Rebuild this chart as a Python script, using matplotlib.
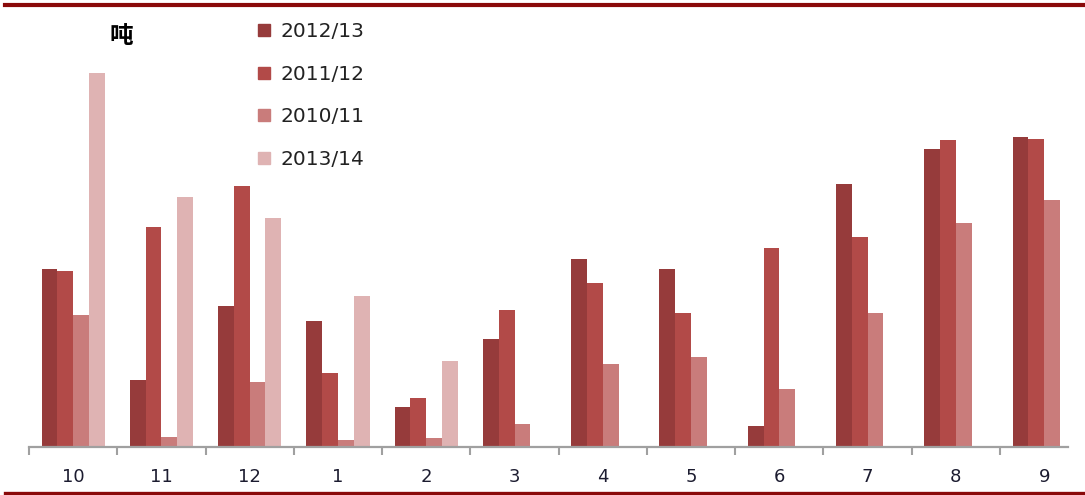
import numpy as np
import matplotlib
matplotlib.use("Agg")
import matplotlib.pyplot as plt
from matplotlib.lines import Line2D

months = ["10", "11", "12", "1", "2", "3", "4", "5", "6", "7", "8", "9"]
seasons = ["2012/13", "2011/12", "2010/11", "2013/14"]

s2012 = [178, 67, 141, 126, 40, 108, 188, 178, 21, 263, 298, 310]
s2011 = [176, 220, 261, 74, 49, 137, 164, 134, 199, 210, 307, 308]
s2010 = [132, 10, 65, 7, 9, 23, 83, 90, 58, 134, 224, 247]
s2013 = [374, 250, 229, 151, 86, np.nan, np.nan, np.nan, np.nan, np.nan, np.nan, np.nan]

colors = ["#963B3B", "#B24A48", "#C97C7B", "#DFB3B3"]

fig = plt.figure(figsize=(10.85, 4.95), dpi=100)
ax = fig.add_axes([29 / 1085, 48 / 495, (1068 - 29) / 1085, 427 / 495])

x = np.arange(len(months))
w = 0.179
series = [s2012, s2011, s2010, s2013]
for i, (vals, c) in enumerate(zip(series, colors)):
    ax.bar(x + (i - 1.5) * w, vals, width=w, color=c, label=seasons[i])

ax.set_xlim(-0.5, 11.27)
ax.set_ylim(0, 427)
ax.set_xticks(np.arange(-0.5, 11.5, 1.0))
ax.set_xticklabels([])
ax.set_xticks(x, minor=True)
ax.set_xticklabels(months, minor=True, fontsize=13, color="#1c1c30")
ax.tick_params(axis="x", which="major", length=6, width=1.5, color="#a0a0a0", direction="out")
ax.tick_params(axis="x", which="minor", length=0, pad=15)
ax.set_yticks([])
for side in ["top", "right", "left"]:
    ax.spines[side].set_visible(False)
ax.spines["bottom"].set_color("#a0a0a0")
ax.spines["bottom"].set_linewidth(1.6)

handles = [Line2D([], [], linestyle="none", marker="s", markersize=9,
                  markerfacecolor=c, markeredgecolor=c) for c in colors]
leg = fig.legend(handles, seasons, loc="upper left",
                 bbox_to_anchor=(248 / 1085, 1 - 14 / 495),
                 frameon=False, fontsize=14.5, labelspacing=1.17,
                 handlelength=0.8, handletextpad=0.4, borderaxespad=0)
for t in leg.get_texts():
    t.set_color("#222222")

fig.text(121 / 1085, 1 - 36 / 495, "吨", fontsize=17, fontweight="bold",
         family=["Noto Sans CJK SC", "DejaVu Sans"], ha="center", va="center")

# red rules at the top and bottom of the panel
fig.add_artist(Line2D([5 / 1085, 1], [1 - 4.5 / 495] * 2, color="#8A0A0A", lw=3))
fig.add_artist(Line2D([5 / 1085, 1], [2.5 / 495] * 2, color="#8A0A0A", lw=2.4))

fig.savefig("out.png", dpi=100)
